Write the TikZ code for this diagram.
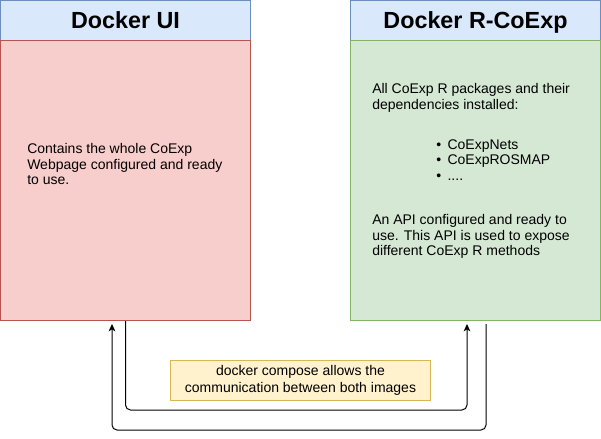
\documentclass[tikz,border=0pt]{standalone}
\usepackage{fontspec}
\setmainfont{Liberation Sans}
\usetikzlibrary{calc}
\usetikzlibrary{arrows.meta}

\definecolor{headfill}{HTML}{DAE8FC}
\definecolor{headline}{HTML}{6C8EBF}
\definecolor{uifill}{HTML}{F8CECC}
\definecolor{uiline}{HTML}{B85450}
\definecolor{rfill}{HTML}{D5E8D4}
\definecolor{rline}{HTML}{82B366}
\definecolor{notefill}{HTML}{FFF2CC}
\definecolor{noteline}{HTML}{D6B656}

\begin{document}
\begin{tikzpicture}[x=0.75pt,y=-0.75pt,
  head/.style={draw=headline,fill=headfill,line width=0.75pt,minimum width=187.5pt,minimum height=30pt,inner sep=0pt,
    text height=12.6pt,text depth=0pt,font=\fontsize{17.5}{21}\selectfont\bfseries},
  body/.style={line width=0.75pt,minimum width=187.5pt,minimum height=210pt,inner sep=0pt},
  txt/.style={anchor=north west,inner sep=0pt,align=left,font=\fontsize{10.5}{11.7}\selectfont},
  note/.style={draw=noteline,fill=notefill,line width=0.75pt,minimum width=195pt,minimum height=30pt,inner sep=0pt,
    align=center,font=\fontsize{10.5}{12.2}\selectfont},
  link/.style={black,line width=0.75pt,rounded corners=3.75pt,-{Stealth[length=5.5pt,width=5pt,inset=1.5pt]}}]

\useasboundingbox (0,0) rectangle (601,439);

\node[head] (uihead) at (125.5,20.5) {Docker UI};
\node[body,draw=uiline,fill=uifill] (uibody) at (125.5,180.5) {};
\node[head] (rhead) at (475.5,20.5) {Docker R-CoExp};
\node[body,draw=rline,fill=rfill] (rbody) at (475.5,180.5) {};

\node[txt] (uitext) at (27,143) {Contains the whole CoExp\\Webpage configured and ready\\to use.};

\node[txt] (rtext) at (372,83) {All CoExp R packages and their\\dependencies installed:};
\node[txt] (rlist) at (436,139.3) {\makebox[8.5pt][l]{\textbullet}CoExpNets\\
  \makebox[8.5pt][l]{\textbullet}CoExpROSMAP\\
  \makebox[8.5pt][l]{\textbullet}....};
\node[txt] (rapi) at (372,214.3) {An API configured and ready to\\use. This API is used to expose\\different CoExp R methods};

\node[note] (compose) at (300.5,380.5) {docker compose allows the\\communication between both images};

\coordinate (P) at (467,324);
\coordinate (Q) at (486,324);
\coordinate (R) at (112,324);
\coordinate (S) at (467,410);

\draw[link] (uibody.south) |- (S) -- (P);
\draw[link] (Q) -- (486,430) -- (112,430) -- (R);

\end{tikzpicture}
\end{document}
